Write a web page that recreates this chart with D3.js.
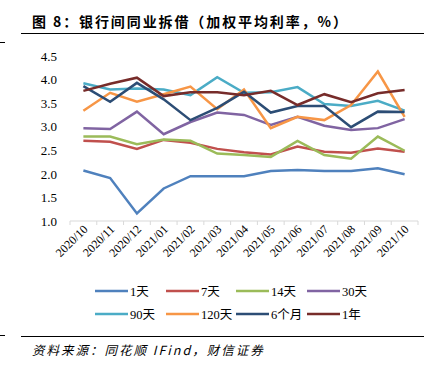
<!DOCTYPE html>
<html lang="zh-CN">
<head>
<meta charset="UTF-8">
<title>银行间同业拆借</title>
<style>
  body { margin: 0; background: #fff; }
  svg text { fill: #000; }
  .tick-label { font: 12px "Liberation Serif", "Times New Roman", serif; }
  .ytick { font: 13px "Liberation Serif", "Times New Roman", serif; }
  .legend text { font: 12.5px "Liberation Serif", "Noto Sans CJK SC", serif; }
</style>
</head>
<body>
<svg id="chart" width="439" height="372"></svg>
<script src="https://d3js.org/d3.v7.min.js"></script>
<script>
// categories (months)
const months = ["2020/10","2020/11","2020/12","2021/01","2021/02","2021/03","2021/04",
                "2021/05","2021/06","2021/07","2021/08","2021/09","2021/10"];
const yTicks = [1.0, 1.5, 2.0, 2.5, 3.0, 3.5, 4.0, 4.5];

// series values
const d1  = [2.07, 1.91, 1.16, 1.69, 1.95, 1.95, 1.95, 2.06, 2.08, 2.06, 2.06, 2.12, 1.99];
const d7  = [2.70, 2.68, 2.53, 2.72, 2.66, 2.53, 2.46, 2.41, 2.58, 2.47, 2.45, 2.54, 2.47];
const d14 = [2.79, 2.79, 2.63, 2.73, 2.70, 2.43, 2.40, 2.36, 2.70, 2.40, 2.32, 2.79, 2.49];
const d30 = [2.97, 2.95, 3.32, 2.84, 3.10, 3.30, 3.25, 3.04, 3.21, 3.02, 2.93, 2.97, 3.16];
const d90 = [3.92, 3.79, 3.81, 3.79, 3.67, 4.05, 3.72, 3.73, 3.84, 3.48, 3.44, 3.55, 3.34];
const d120 = [3.34, 3.72, 3.53, 3.69, 3.85, 3.37, 3.79, 2.97, 3.21, 3.14, 3.46, 4.17, 3.21];
const m6  = [3.86, 3.53, 3.93, 3.58, 3.14, 3.40, 3.74, 3.30, 3.44, 3.44, 2.99, 3.32, 3.31];
const y1  = [3.76, 3.91, 4.04, 3.65, 3.73, 3.73, 3.67, 3.76, 3.46, 3.69, 3.52, 3.71, 3.78];

const seriesNames = ["1天","7天","14天","30天","90天","120天","6个月","1年"];
const seriesColors = ["#4F81BD","#C0504D","#9BBB59","#8064A2","#4BACC6","#F79646","#2C4D75","#772C2A"];
const seriesValues = [d1, d7, d14, d30, d90, d120, m6, y1];

const svg = d3.select("#chart");

// title and rules
svg.append("text")
  .attr("x", 32).attr("y", 27)
  .style("font", "bold 14px 'Noto Sans CJK SC', sans-serif")
  .style("letter-spacing", "1.9px")
  .text("图 8：银行间同业拆借（加权平均利率，%）");
svg.append("line").attr("x1", 21).attr("x2", 424).attr("y1", 33.5).attr("y2", 33.5)
  .attr("stroke", "#000").attr("stroke-width", 1);
svg.append("line").attr("x1", 0).attr("x2", 5).attr("y1", 42.5).attr("y2", 42.5)
  .attr("stroke", "#000").attr("stroke-width", 1);
svg.append("line").attr("x1", 21).attr("x2", 424).attr("y1", 336.5).attr("y2", 336.5)
  .attr("stroke", "#000").attr("stroke-width", 1);
svg.append("line").attr("x1", 0).attr("x2", 5).attr("y1", 335.5).attr("y2", 335.5)
  .attr("stroke", "#000").attr("stroke-width", 1);
svg.append("text")
  .attr("x", 32).attr("y", 355)
  .style("font", "italic 12.5px 'Noto Sans CJK SC', serif")
  .style("letter-spacing", "2px")
  .text("资料来源：同花顺 IFind，财信证券");

// scales
const x = d3.scaleBand().domain(months).range([70, 418]);
const y = d3.scaleLinear().domain([1.0, 4.5]).range([221, 56]);

// y axis (labels only)
const yAxis = svg.append("g").attr("transform", "translate(62,0)")
  .call(d3.axisLeft(y).tickValues(yTicks).tickFormat(d3.format(".1f")).tickSize(0).tickPadding(6));
yAxis.select(".domain").remove();
yAxis.selectAll("text").attr("class", "ytick").attr("x", -5);

// x axis
const xAxis = svg.append("g").attr("transform", "translate(0,221)");
xAxis.append("line").attr("x1", 70).attr("x2", 418).attr("stroke", "#D9D9D9").attr("stroke-width", 1);
xAxis.selectAll("line.tk")
  .data(months.concat(["end"]))
  .enter().append("line")
  .attr("class", "tk")
  .attr("x1", (d, i) => i < months.length ? x(d) : x.range()[1])
  .attr("x2", (d, i) => i < months.length ? x(d) : x.range()[1])
  .attr("y1", 0).attr("y2", 4)
  .attr("stroke", "#D9D9D9");
xAxis.selectAll("text")
  .data(months)
  .enter().append("text")
  .attr("class", "tick-label")
  .attr("text-anchor", "end")
  .attr("transform", d => `translate(${x(d) + x.bandwidth() / 2 + 5},${9}) rotate(-45)`)
  .text(d => d);

// lines
const line = d3.line()
  .x((d, i) => x(months[i]) + x.bandwidth() / 2)
  .y(d => y(d));

svg.append("g").selectAll("path")
  .data(seriesValues)
  .enter().append("path")
  .attr("d", line)
  .attr("fill", "none")
  .attr("stroke", (d, i) => seriesColors[i])
  .attr("stroke-width", 2.5)
  .attr("stroke-linejoin", "miter");

// legend
const legX = [95, 166, 236, 307];
const legY = [291, 314];
const legend = svg.append("g").attr("class", "legend");
seriesNames.forEach((name, i) => {
  const lx = legX[i % 4], ly = legY[Math.floor(i / 4)];
  legend.append("line").attr("x1", lx).attr("x2", lx + 33)
    .attr("y1", ly).attr("y2", ly)
    .attr("stroke", seriesColors[i]).attr("stroke-width", 2.5);
  legend.append("text").attr("x", lx + 35).attr("y", ly + 4.5).text(name);
});
</script>
</body>
</html>
